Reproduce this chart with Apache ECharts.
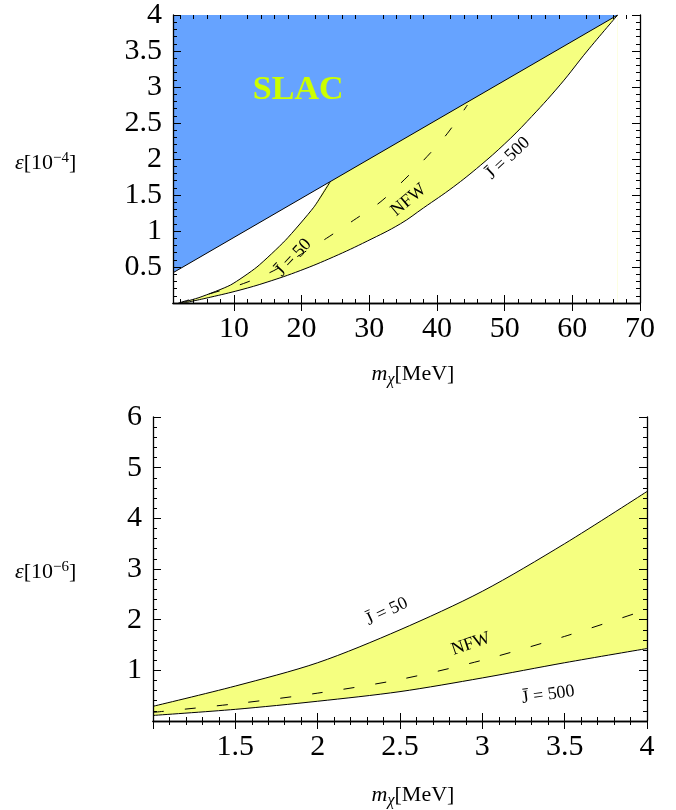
<!DOCTYPE html>
<html>
<head>
<meta charset="utf-8">
<script src="https://cdn.jsdelivr.net/npm/echarts@6/dist/echarts.min.js"></script>
<style>
html, body { margin: 0; padding: 0; background: #fff; }
#chart { width: 676px; height: 810px; }
</style>
</head>
<body>
<div id="chart"></div>
<script>
// upper panel: m_chi [MeV] vs epsilon [1e-4]
var topSlac = [[1, 0.42], [66.7, 4]];
var topJ50 = [[2.1, 0], [5, 0.08], [9.5, 0.25], [13.4, 0.5], [17.6, 0.87], [21.8, 1.33], [24.2, 1.68]];
var topJ500 = [[2.6, 0], [6.5, 0.08], [10.9, 0.18], [14.9, 0.29], [19.8, 0.45], [24.7, 0.64], [29.7, 0.86],
               [34.6, 1.1], [38, 1.32], [42.4, 1.61], [46.4, 1.91], [50, 2.21], [53.3, 2.52], [58.2, 3.03],
               [62.2, 3.5], [66.7, 4]];
var topNFW = [[1.8, 0], [6.5, 0.13], [11.4, 0.27], [15.9, 0.45], [19.8, 0.67], [23.7, 0.9], [27.7, 1.15],
              [31.6, 1.4], [34.6, 1.66], [38, 1.98], [41.5, 2.35], [44.5, 2.75]];
var topXTicks = [10, 20, 30, 40, 50, 60, 70];

// lower panel: m_chi [MeV] vs epsilon [1e-6]
var botMass = [1, 1.5, 2, 2.5, 3, 3.5, 4];
var botJ50 = [0.29, 0.69, 1.15, 1.8, 2.56, 3.5, 4.53];
var botNFW = [0.17, 0.34, 0.55, 0.82, 1.2, 1.67, 2.2];
var botJ500 = [0.11, 0.23, 0.39, 0.58, 0.85, 1.15, 1.43];

var BLUE = '#66a3ff';
var YELLOW = '#f5ff80';
var FONT = 'Liberation Serif';

function pairs(xs, ys) {
    return xs.map(function (x, i) { return [x, ys[i]]; });
}

// yellow band top edge: J=50 up to the kink, then along the SLAC line
var topUpper = topJ50.concat([topSlac[1]]);

var topXMinor = [];
for (var v = 2; v < 70; v += 2) {
    if (v % 10 !== 0) topXMinor.push(v);
}

function hideFirst(first) {
    return function (val) { return Math.abs(val - first) < 1e-9 ? '' : String(+val.toFixed(2)); };
}

var axLine = { show: true, lineStyle: { color: '#000', width: 1.3 } };
var noLine = { show: false };
var labelStyle = { fontFamily: FONT, fontSize: 30, color: '#000' };
var black = { color: '#000' };

function majorTick(vals) {
    var t = { inside: true, length: 8, lineStyle: black };
    if (vals) t.customValues = vals;
    return t;
}
var minorTick = { show: true, splitNumber: 5, length: 4, lineStyle: black };

var chart = echarts.init(document.getElementById('chart'));

var option = {
    animation: false,
    backgroundColor: '#fff',
    grid: [
        { left: 173, top: 15, width: 467, height: 288 },
        { left: 153, top: 417, width: 494, height: 304 }
    ],
    xAxis: [
        { gridIndex: 0, type: 'value', position: 'bottom', min: 1, max: 70, z: 10,
          axisLine: axLine, splitLine: { show: false }, axisTick: majorTick(topXTicks),
          axisLabel: Object.assign({ customValues: topXTicks, margin: 11 }, labelStyle) },
        { gridIndex: 0, type: 'value', position: 'top', min: 1, max: 70, z: 10,
          axisLine: axLine, splitLine: { show: false }, axisTick: majorTick(topXTicks),
          axisLabel: { show: false } },
        { gridIndex: 0, type: 'value', position: 'bottom', min: 1, max: 70, z: 10,
          axisLine: noLine, splitLine: { show: false },
          axisTick: { inside: true, length: 4, customValues: topXMinor, lineStyle: black },
          axisLabel: { show: false } },
        { gridIndex: 0, type: 'value', position: 'top', min: 1, max: 70, z: 10,
          axisLine: noLine, splitLine: { show: false },
          axisTick: { inside: true, length: 4, customValues: topXMinor, lineStyle: black },
          axisLabel: { show: false } },
        { gridIndex: 1, type: 'value', position: 'bottom', min: 1, max: 4, interval: 0.5, z: 10,
          axisLine: axLine, splitLine: { show: false }, axisTick: majorTick(), minorTick: minorTick,
          axisLabel: Object.assign({ margin: 11, formatter: hideFirst(1) }, labelStyle) },
        { gridIndex: 1, type: 'value', position: 'top', min: 1, max: 4, interval: 0.5, z: 10,
          axisLine: axLine, splitLine: { show: false }, axisTick: majorTick(), minorTick: minorTick,
          axisLabel: { show: false } }
    ],
    yAxis: [
        { gridIndex: 0, type: 'value', position: 'left', min: 0, max: 4, interval: 0.5, z: 10,
          axisLine: axLine, splitLine: { show: false }, axisTick: majorTick(), minorTick: minorTick,
          axisLabel: Object.assign({ margin: 11, formatter: hideFirst(0) }, labelStyle) },
        { gridIndex: 0, type: 'value', position: 'right', min: 0, max: 4, interval: 0.5, z: 10,
          axisLine: axLine, splitLine: { show: false }, axisTick: majorTick(), minorTick: minorTick,
          axisLabel: { show: false } },
        { gridIndex: 1, type: 'value', position: 'left', min: 0, max: 6, interval: 1, z: 10,
          axisLine: axLine, splitLine: { show: false }, axisTick: majorTick(), minorTick: minorTick,
          axisLabel: Object.assign({ margin: 11, formatter: hideFirst(0) }, labelStyle) },
        { gridIndex: 1, type: 'value', position: 'right', min: 0, max: 6, interval: 1, z: 10,
          axisLine: axLine, splitLine: { show: false }, axisTick: majorTick(), minorTick: minorTick,
          axisLabel: { show: false } }
    ],
    series: [
        // upper panel
        { type: 'line', xAxisIndex: 0, yAxisIndex: 0, data: topUpper, symbol: 'none', silent: true, z: 1,
          smooth: 0.2, lineStyle: { width: 0 }, areaStyle: { color: YELLOW, opacity: 1 } },
        { type: 'line', xAxisIndex: 0, yAxisIndex: 0, data: topJ500, symbol: 'none', silent: true, z: 2,
          smooth: 0.4, lineStyle: { width: 0 }, areaStyle: { color: '#fff', opacity: 1 } },
        { type: 'line', xAxisIndex: 0, yAxisIndex: 0, data: topSlac, symbol: 'none', silent: true, z: 3,
          lineStyle: { color: '#000', width: 1 }, areaStyle: { color: BLUE, opacity: 1, origin: 'end' } },
        { type: 'line', xAxisIndex: 0, yAxisIndex: 0, data: topJ50, symbol: 'none', z: 4, smooth: 0.2,
          lineStyle: { color: '#000', width: 1 } },
        { type: 'line', xAxisIndex: 0, yAxisIndex: 0, data: topJ500, symbol: 'none', z: 4, smooth: 0.4,
          lineStyle: { color: '#000', width: 1 } },
        { type: 'line', xAxisIndex: 0, yAxisIndex: 0, data: topNFW, symbol: 'none', z: 4, smooth: 0.3,
          lineStyle: { color: '#000', width: 1, type: [11, 21] } },
        // lower panel
        { type: 'line', xAxisIndex: 4, yAxisIndex: 2, data: pairs(botMass, botJ50), symbol: 'none', silent: true,
          smooth: 0.3, z: 1, lineStyle: { width: 0 }, areaStyle: { color: YELLOW, opacity: 1 } },
        { type: 'line', xAxisIndex: 4, yAxisIndex: 2, data: pairs(botMass, botJ500), symbol: 'none', silent: true,
          smooth: 0.3, z: 2, lineStyle: { width: 0 }, areaStyle: { color: '#fff', opacity: 1 } },
        { type: 'line', xAxisIndex: 4, yAxisIndex: 2, data: pairs(botMass, botJ50), symbol: 'none', smooth: 0.3, z: 4,
          lineStyle: { color: '#000', width: 1 } },
        { type: 'line', xAxisIndex: 4, yAxisIndex: 2, data: pairs(botMass, botJ500), symbol: 'none', smooth: 0.3, z: 4,
          lineStyle: { color: '#000', width: 1 } },
        { type: 'line', xAxisIndex: 4, yAxisIndex: 2, data: pairs(botMass, botNFW), symbol: 'none', smooth: 0.3, z: 4,
          lineStyle: { color: '#000', width: 1, type: [11, 21] } }
    ]
};
chart.setOption(option);

// curve labels, placed in data coordinates, rotation in degrees
var curveLabels = [
    { grid: [0, 0], at: [18.8, 0.63], rot: 47, text: 'J\u0304 = 50' },
    { grid: [0, 0], at: [35.8, 1.43], rot: 40, text: 'NFW' },
    { grid: [0, 0], at: [50.5, 2.01], rot: 43, text: 'J\u0304 = 500' },
    { grid: [4, 2], at: [2.42, 2.16], rot: 25, text: 'J\u0304 = 50' },
    { grid: [4, 2], at: [2.93, 1.52], rot: 19, text: 'NFW' },
    { grid: [4, 2], at: [3.40, 0.52], rot: 8, text: 'J\u0304 = 500' }
];

var graphics = curveLabels.map(function (l) {
    var p = chart.convertToPixel({ xAxisIndex: l.grid[0], yAxisIndex: l.grid[1] }, l.at);
    return {
        type: 'text', x: p[0], y: p[1], rotation: l.rot * Math.PI / 180, z: 20,
        style: { text: l.text, font: '18px "Liberation Serif"', fill: '#000',
                 textAlign: 'center', textVerticalAlign: 'middle' }
    };
});

var slacPos = chart.convertToPixel({ xAxisIndex: 0, yAxisIndex: 0 }, [19.5, 2.95]);
graphics.push({
    type: 'text', x: slacPos[0], y: slacPos[1], z: 20,
    style: { text: 'SLAC', font: 'bold 34px "Liberation Serif"', fill: '#ccff00',
             textAlign: 'center', textVerticalAlign: 'middle' }
});

var titleRich = {
    it: { fontFamily: FONT, fontStyle: 'italic', fontSize: 22, color: '#000' },
    sub: { fontFamily: FONT, fontStyle: 'italic', fontSize: 16, color: '#000', padding: [11, 0, 0, 0] },
    sup: { fontFamily: FONT, fontSize: 15, color: '#000', padding: [0, 0, 10, 0] },
    n: { fontFamily: FONT, fontSize: 22, color: '#000' }
};

function xTitle(cx, cy) {
    return { type: 'text', x: cx, y: cy, z: 20,
             style: { text: '{it|m}{sub|\u03c7}{n|[MeV]}', rich: titleRich,
                      textAlign: 'center', textVerticalAlign: 'middle' } };
}
function yTitle(cx, cy, pow) {
    return { type: 'text', x: cx, y: cy, z: 20,
             style: { text: '{it|\u03b5}{n|[10}{sup|\u2212' + pow + '}{n|]}', rich: titleRich,
                      textAlign: 'left', textVerticalAlign: 'middle' } };
}
graphics.push(xTitle(413, 374), xTitle(413, 795), yTitle(15, 163, 4), yTitle(15, 572, 6));

chart.setOption({ graphic: graphics });
</script>
</body>
</html>
